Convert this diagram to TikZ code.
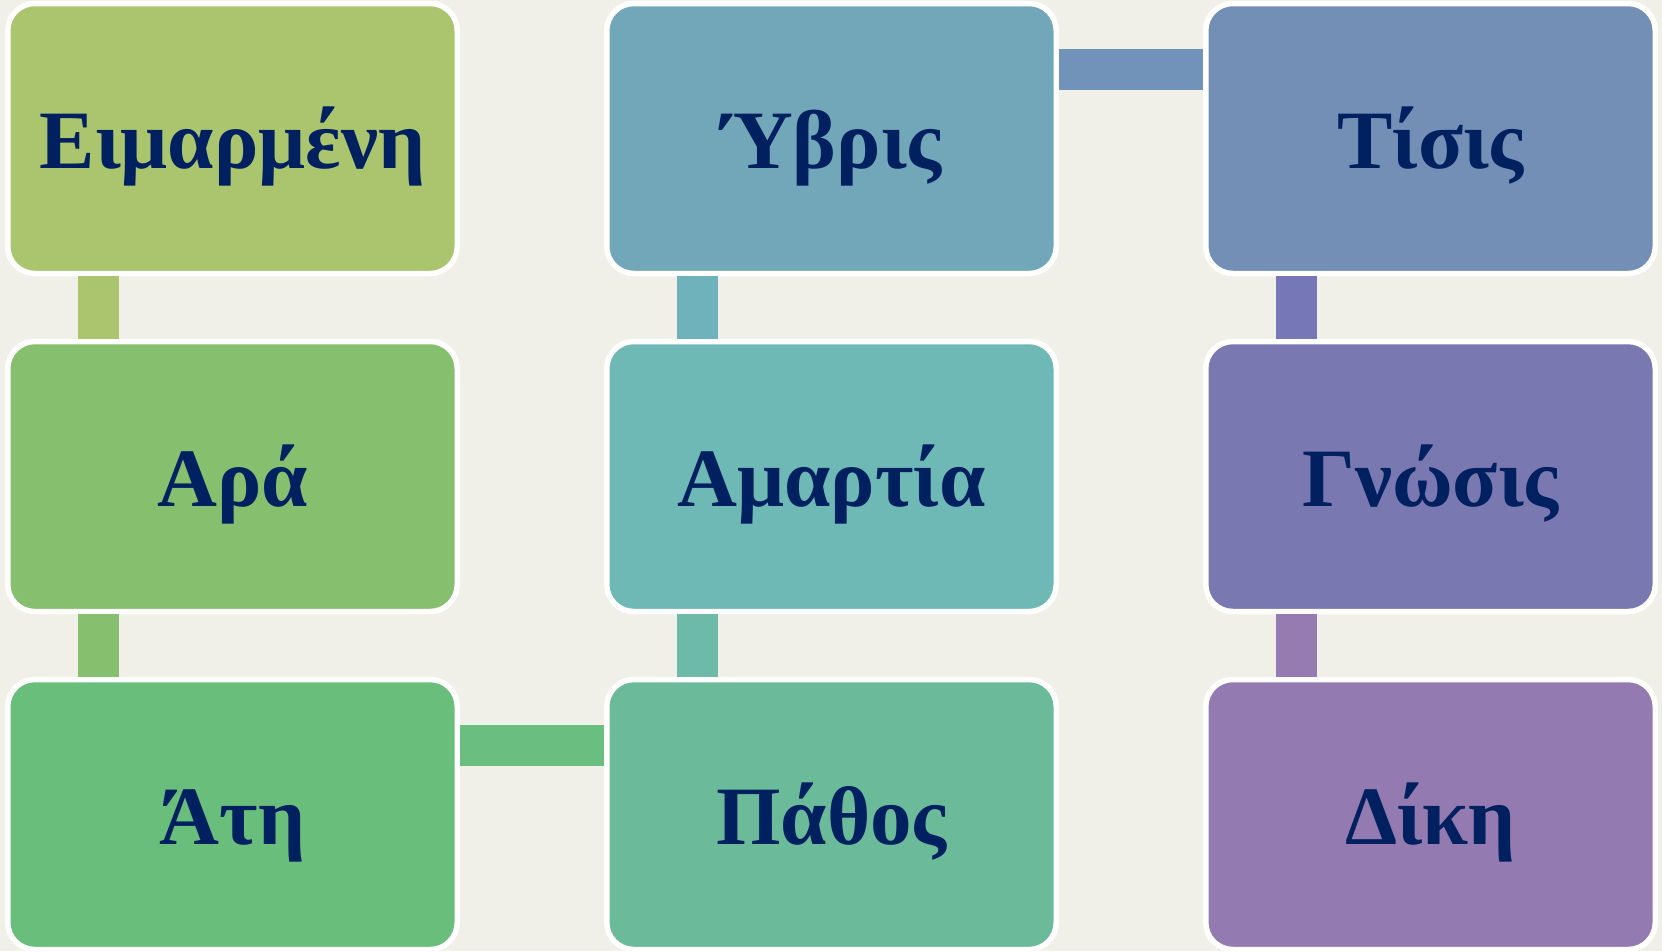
\documentclass[tikz,border=0pt]{standalone}
\usepackage{fontspec}
\setmainfont{Liberation Serif}
\definecolor{bg}{RGB}{240,239,232}
\definecolor{txt}{RGB}{0,32,96}
\definecolor{cA}{RGB}{171,196,110}
\definecolor{cB}{RGB}{134,191,110}
\definecolor{cC}{RGB}{106,190,124}
\definecolor{cD}{RGB}{114,167,186}
\definecolor{cE}{RGB}{110,184,181}
\definecolor{cF}{RGB}{107,187,154}
\definecolor{cG}{RGB}{115,143,182}
\definecolor{cH}{RGB}{122,120,176}
\definecolor{cI}{RGB}{147,122,176}
\definecolor{kAB}{RGB}{171,196,110}
\definecolor{kBC}{RGB}{134,191,110}
\definecolor{kDE}{RGB}{111,178,187}
\definecolor{kEF}{RGB}{110,186,168}
\definecolor{kGH}{RGB}{118,119,182}
\definecolor{kHI}{RGB}{150,123,177}
\definecolor{kDG}{RGB}{114,147,185}
\definecolor{kCF}{RGB}{105,190,128}
\tikzset{
  box/.style={rectangle, rounded corners=27pt, draw=white, line width=5.5pt,
    outer sep=2.75pt, inner sep=0pt, minimum width=449.5pt, minimum height=270pt,
    text=txt, font=\fontsize{83}{90}\selectfont\bfseries,
    text height=59pt, text depth=0pt},
  vconn/.style={line width=41pt},
  hconn/.style={line width=41pt},
}
\begin{document}
\begin{tikzpicture}[x=1pt,y=1pt]
\useasboundingbox[fill=bg] (0,0) rectangle (1662,-951);
% boxes (centres)
\node[box, fill=cA] (eim) at (232.5,-138.5) {Ειμαρμένη};
\node[box, fill=cB] (ara) at (232.5,-476.5) {Αρά};
\node[box, fill=cC] (ate) at (232.5,-814.5) {Άτη};
\node[box, fill=cD] (hyb) at (831.5,-138.5) {Ύβρις};
\node[box, fill=cE] (ham) at (831.5,-476.5) {Αμαρτία};
\node[box, fill=cF] (pat) at (831.5,-814.5) {Πάθος};
\node[box, fill=cG] (tis) at (1430.5,-138.5) {Τίσις};
\node[box, fill=cH] (gno) at (1430.5,-476.5) {Γνώσις};
\node[box, fill=cI] (dik) at (1430.5,-814.5) {Δίκη};
% connectors
\draw[vconn, kAB] ([xshift=93.5pt]eim.south west) -- ([xshift=93.5pt]ara.north west);
\draw[vconn, kBC] ([xshift=93.5pt]ara.south west) -- ([xshift=93.5pt]ate.north west);
\draw[vconn, kDE] ([xshift=93.5pt]hyb.south west) -- ([xshift=93.5pt]ham.north west);
\draw[vconn, kEF] ([xshift=93.5pt]ham.south west) -- ([xshift=93.5pt]pat.north west);
\draw[vconn, kGH] ([xshift=93.5pt]tis.south west) -- ([xshift=93.5pt]gno.north west);
\draw[vconn, kHI] ([xshift=93.5pt]gno.south west) -- ([xshift=93.5pt]dik.north west);
\draw[hconn, kDG] ([yshift=-68.5pt]hyb.north east) -- ([yshift=-68.5pt]tis.north west);
\draw[hconn, kCF] ([yshift=-68.5pt]ate.north east) -- ([yshift=-68.5pt]pat.north west);
\end{tikzpicture}
\end{document}
